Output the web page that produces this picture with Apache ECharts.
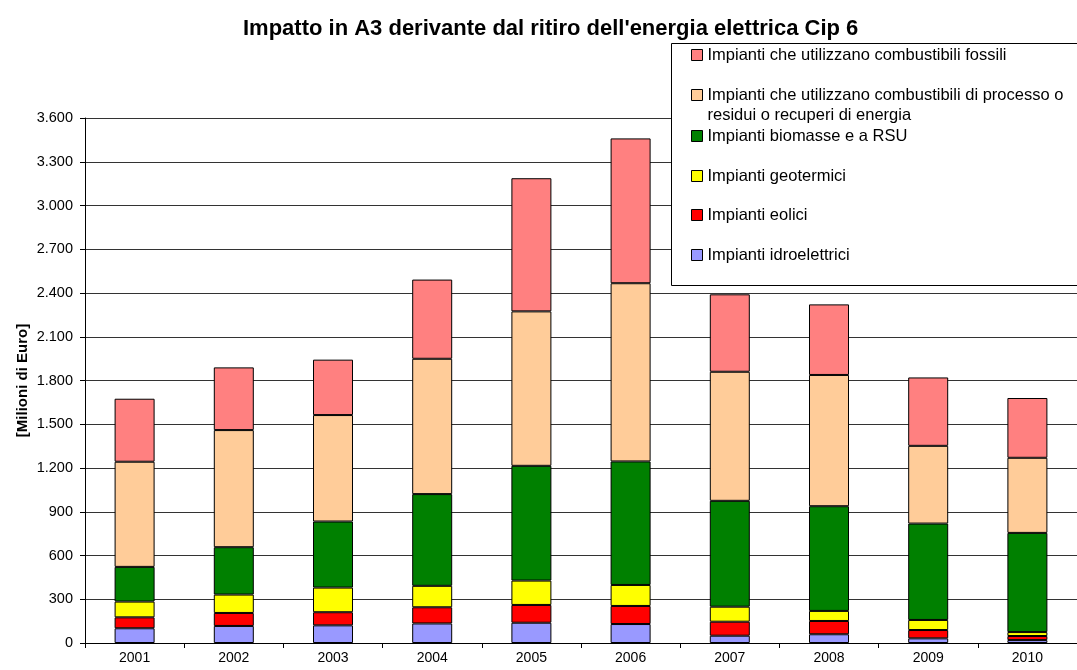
<!DOCTYPE html>
<html>
<head>
<meta charset="utf-8">
<script src="https://cdn.jsdelivr.net/npm/echarts@6/dist/echarts.min.js"></script>
<style>
  html, body { margin: 0; padding: 0; background: #fff; }
  #chart { width: 1077px; height: 670px; }
</style>
</head>
<body>
<div id="chart"></div>
<script>
const years = ['2001', '2002', '2003', '2004', '2005', '2006', '2007', '2008', '2009', '2010'];

// milioni di euro
const idroelettrici = [101, 117, 121, 134, 139, 130, 50, 60, 32, 20];
const eolici = [75, 89, 90, 111, 122, 124, 96, 91, 57, 28];
const geotermici = [108, 126, 169, 147, 167, 144, 103, 69, 69, 27];
const biomasse = [238, 325, 453, 629, 787, 847, 726, 718, 661, 680];
const processo = [721, 803, 730, 928, 1059, 1222, 885, 900, 533, 515];
const fossili = [432, 430, 380, 543, 913, 993, 531, 484, 469, 410];

const yTicks = [0, 300, 600, 900, 1200, 1500, 1800, 2100, 2400, 2700, 3000, 3300, 3600];

const seriesDefs = [
  { name: 'Impianti idroelettrici', data: idroelettrici, color: '#9999FF' },
  { name: 'Impianti eolici', data: eolici, color: '#FF0000' },
  { name: 'Impianti geotermici', data: geotermici, color: '#FFFF00' },
  { name: 'Impianti biomasse e a RSU', data: biomasse, color: '#008000' },
  { name: 'Impianti che utilizzano combustibili di processo o residui o recuperi di energia', data: processo, color: '#FFCC99' },
  { name: 'Impianti che utilizzano combustibili fossili', data: fossili, color: '#FF8080' }
];

// legenda: un componente per voce, dall'alto in basso
// la voce a due righe ha una riga vuota sopra, così il quadratino resta sulla prima riga
const legendTops = [45, 65, 126, 166, 205, 245];
const legendOrder = seriesDefs.slice().reverse();
const longName = seriesDefs[4].name;

const font = 'Liberation Sans, Arial, sans-serif';

const chart = echarts.init(document.getElementById('chart'));

const option = {
  animation: false,
  backgroundColor: '#fff',
  title: {
    text: "Impatto in A3 derivante dal ritiro dell'energia elettrica Cip 6",
    left: 238,
    top: 13,
    textStyle: { fontFamily: font, fontSize: 22, fontWeight: 'bold', color: '#000' }
  },
  grid: { left: 85, right: -11, top: 118, bottom: 27, containLabel: false },
  legend: legendOrder.map((s, i) => ({
    data: [s.name],
    left: 691,
    top: legendTops[i],
    orient: 'vertical',
    padding: 0,
    z: 10,
    itemWidth: 11,
    itemHeight: 11,
    itemGap: 0,
    icon: 'rect',
    selectedMode: false,
    itemStyle: { borderColor: '#000', borderWidth: 1 },
    formatter: name => name === longName
      ? ' \nImpianti che utilizzano combustibili di processo o\nresidui o recuperi di energia'
      : name,
    textStyle: {
      fontFamily: font,
      fontSize: 16.5,
      color: '#000',
      lineHeight: 20,
      padding: [0, 0, 0, 0]
    }
  })),
  graphic: [{
    type: 'rect',
    left: 671,
    top: 43,
    shape: { width: 420, height: 242 },
    style: { fill: '#fff', stroke: '#000', lineWidth: 1 },
    z: 3
  }],
  xAxis: {
    type: 'category',
    data: years,
    boundaryGap: true,
    axisLine: { lineStyle: { color: '#000', width: 1 } },
    axisTick: { show: true, length: 5, lineStyle: { color: '#000' } },
    axisLabel: { fontFamily: font, fontSize: 14, color: '#000', margin: 8 }
  },
  yAxis: {
    type: 'value',
    min: 0,
    max: yTicks[yTicks.length - 1],
    interval: 300,
    name: '[Milioni di Euro]',
    nameLocation: 'middle',
    nameGap: 55,
    nameMoveOverlap: false,
    nameRotate: 90,
    nameTextStyle: { fontFamily: font, fontSize: 15, fontWeight: 'bold', color: '#000' },
    axisLine: { show: true, lineStyle: { color: '#000', width: 1 } },
    axisTick: { show: true, length: 5, lineStyle: { color: '#000' } },
    axisLabel: {
      fontFamily: font,
      fontSize: 14.5,
      color: '#000',
      margin: 12,
      formatter: v => v.toString().replace(/\B(?=(\d{3})+(?!\d))/g, '.')
    },
    splitLine: { show: true, lineStyle: { color: '#333', width: 1 } }
  },
  series: seriesDefs.map(s => ({
    name: s.name,
    type: 'bar',
    stack: 'totale',
    barWidth: 40,
    data: s.data,
    itemStyle: { color: s.color, borderColor: '#000', borderWidth: 1 },
    emphasis: { disabled: true }
  }))
};

chart.setOption(option);
</script>
</body>
</html>
